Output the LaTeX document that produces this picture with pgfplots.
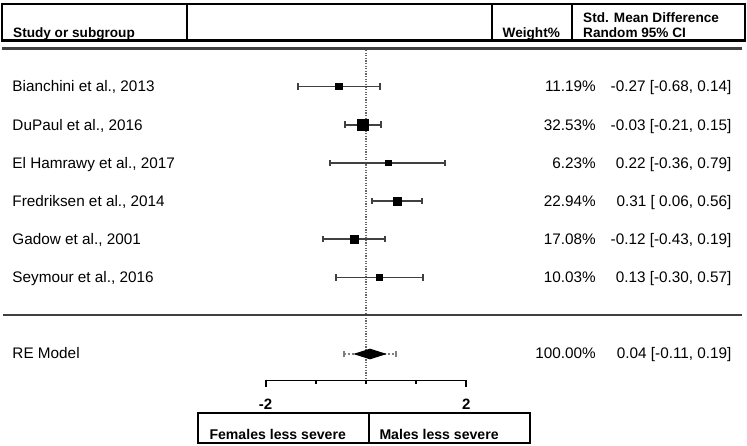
\documentclass[border=0pt]{standalone}
\usepackage{fontspec}
\setmainfont{Liberation Sans}
\usepackage{pgfplots}
\usepackage{pgfplotstable}
\pgfplotsset{compat=1.18}

% row position (px from top), estimate, CI, marker half-size
\pgfplotstableread{
y     est    lo     hi    ms
86.5  -0.27  -0.68  0.14  3.2
124.7 -0.03  -0.21  0.15  5.5
162.9  0.22  -0.36  0.79  2.7
201.1  0.31   0.06  0.56  4.3
239.3 -0.12  -0.43  0.19  3.9
277.5  0.13  -0.30  0.57  3.0
}\studies

\newcommand{\body}{\fontsize{15.3}{18}\selectfont}
\newcommand{\head}{\bfseries\fontsize{13.6}{16}\selectfont}

\begin{document}
\begin{tikzpicture}
\begin{axis}[
  at={(0,0)}, anchor=south west,
  scale only axis,
  width=747pt, height=446pt,
  xmin=-3.6454, xmax=3.7948,
  ymin=0, ymax=446,
  y dir=reverse,
  hide axis,
  clip=false,
]
% line of no effect
\addplot[black!60, line width=1.5pt, dash pattern=on 1.3pt off 1.3pt]
  coordinates {(0,50) (0,380.5)};

% 95% CI whiskers
\addplot[
  black!75, line width=1.8pt, only marks, mark=none,
  error bars/.cd,
    x dir=both, x explicit,
    error bar style={line width=1.8pt, black!75},
    error mark=|,
    error mark options={mark size=3.2pt, line width=1.8pt, black!75},
] table[
  x=est, y=y,
  x error plus expr=\thisrow{hi}-\thisrow{est},
  x error minus expr=\thisrow{est}-\thisrow{lo},
] {\studies};

% study estimates
\addplot[
  scatter, only marks, mark=square*,
  scatter/use mapped color={draw=black, fill=black},
  visualization depends on={\thisrow{ms} \as \msize},
  scatter/@pre marker code/.append style={/tikz/mark size=\msize},
] table[x=est, y=y] {\studies};

% prediction interval
\addplot[black!50, line width=1.3pt, dash pattern=on 2pt off 2pt]
  coordinates {(-0.22,354) (0.30,354)};
\addplot[only marks, mark=|, mark size=3.2pt, black!50, mark options={line width=1.3pt}]
  coordinates {(-0.22,354) (0.30,354)};

% RE model diamond
\addplot[fill=black, draw=black, line width=1pt]
  coordinates {(-0.11,354) (0.04,349.2) (0.19,354) (0.04,358.8)} -- cycle;

% x scale
\draw[line width=1.9pt] (axis cs:-1,380.5) -- (axis cs:1,380.5);
\draw[line width=1.9pt] (axis cs:-1,379.6) -- (axis cs:-1,387.5);
\draw[line width=1.9pt] (axis cs:1,379.6) -- (axis cs:1,387.5);
\draw[line width=1.6pt] (axis cs:-0.5,380) -- (axis cs:-0.5,384.5);
\draw[line width=1.6pt] (axis cs:0,380) -- (axis cs:0,384.5);
\draw[line width=1.6pt] (axis cs:0.5,380) -- (axis cs:0.5,384.5);
\node[font=\bfseries\fontsize{15}{18}\selectfont, anchor=base] at (axis cs:-1,409.5) {-2};
\node[font=\bfseries\fontsize{15}{18}\selectfont, anchor=base] at (axis cs:1,409.5) {2};
\end{axis}

\begin{scope}[shift={(0pt,446pt)}, x=1pt, y=-1pt]
  % header
  \draw[line width=2.5pt] (2,4) rectangle (745,40.7);
  \draw[line width=2.3pt] (187,4) -- (187,40.7);
  \draw[line width=2.3pt] (492.3,4) -- (492.3,40.7);
  \draw[line width=2.3pt] (572.3,4) -- (572.3,40.7);
  \node[font=\head, anchor=base west, inner sep=0] at (13,37.5) {Study or subgroup};
  \node[font=\head, anchor=base west, inner sep=0] at (502.5,37.5) {Weight\%};
  \node[font=\head, anchor=base west, inner sep=0] at (583,23) {Std. Mean Difference};
  \node[font=\head, anchor=base west, inner sep=0] at (583,37.5) {Random 95\% CI};
  \draw[line width=2.8pt, black!75] (2,48.2) -- (742,48.2);
  \draw[line width=2.4pt, black!75] (2.7,315.2) -- (742,315.2);

  % study rows
  \foreach \name/\w/\ci [count=\i from 0] in {
    {Bianchini et al., 2013}/{11.19\%}/{-0.27 [-0.68, 0.14]},
    {DuPaul et al., 2016}/{32.53\%}/{-0.03 [-0.21, 0.15]},
    {El Hamrawy et al., 2017}/{6.23\%}/{0.22 [-0.36, 0.79]},
    {Fredriksen et al., 2014}/{22.94\%}/{0.31 [ 0.06, 0.56]},
    {Gadow et al., 2001}/{17.08\%}/{-0.12 [-0.43, 0.19]},
    {Seymour et al., 2016}/{10.03\%}/{0.13 [-0.30, 0.57]}} {
    \pgfmathsetmacro{\yy}{86.5+38.2*\i+5.5}
    \node[font=\body, anchor=base west, inner sep=0] at (12.3,\yy) {\name};
    \node[font=\body, anchor=base east, inner sep=0] at (596,\yy) {\w};
    \node[font=\body, anchor=base east, inner sep=0] at (731.7,\yy) {\ci};
  }
  \node[font=\body, anchor=base west, inner sep=0] at (12.3,359) {RE Model};
  \node[font=\body, anchor=base east, inner sep=0] at (596,359) {100.00\%};
  \node[font=\body, anchor=base east, inner sep=0] at (731.7,359) {0.04 [-0.11, 0.19]};

  % footer
  \draw[line width=2.2pt] (198.3,412.7) rectangle (530,442.7);
  \draw[line width=2.2pt] (369,412.7) -- (369,442.7);
  \node[font=\bfseries\fontsize{14.1}{17}\selectfont, anchor=base west, inner sep=0] at (209.3,439.5) {Females less severe};
  \node[font=\bfseries\fontsize{14.1}{17}\selectfont, anchor=base west, inner sep=0] at (379.3,439.5) {Males less severe};

  \path (0,0) rectangle (747,446);
\end{scope}
\end{tikzpicture}
\end{document}
